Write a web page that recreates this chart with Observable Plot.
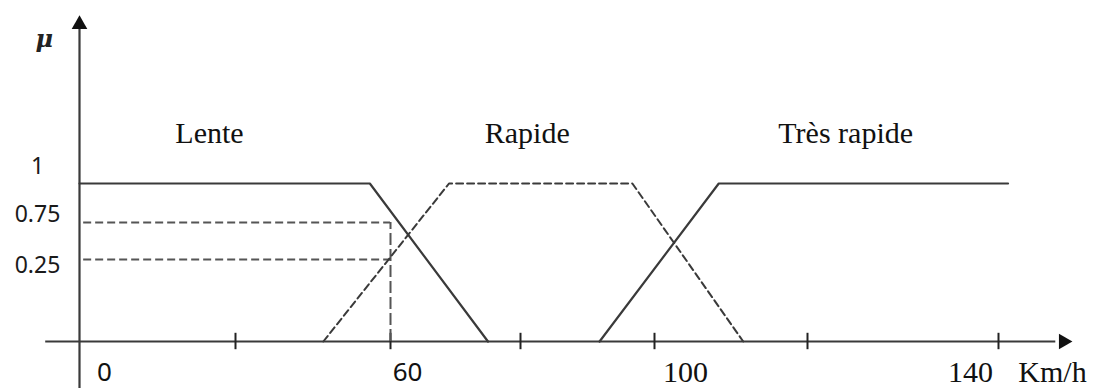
<!DOCTYPE html>
<html><head><meta charset="utf-8">
<script src="https://cdn.jsdelivr.net/npm/d3@7"></script>
<script src="https://cdn.jsdelivr.net/npm/@observablehq/plot@0.6"></script>
<style>html,body{margin:0;padding:0;background:#fff;overflow:hidden}</style>
</head><body><div id="chart"></div>
<script>
// Membership functions (x in km/h, mu in [0,1])
const lenteX = [0, 56, 75];
const lenteMu = [1, 1, 0];
const rapideX = [47, 69, 96.7, 111.6];
const rapideMu = [0, 1, 1, 0];
const tresRapideX = [91.8, 108.4, 141];
const tresRapideMu = [0, 1, 1];
const categories = ["Lente", "Rapide", "Très rapide"];
const categoryX = [25, 81, 124];
const xTicks = [30, 60, 80, 100, 120, 140];
const xTickLabels = ["0", "60", "100", "140"];
const xTickLabelValues = [0, 60, 100, 140];
const yTickLabels = ["1", "0.75", "0.25"];
const yTickValues = [1, 0.75, 0.25];
const readX = 60;
const readMu = [0.75, 0.25];

// the hand-drawn figure's axes are not evenly spaced: piecewise warp
const xWarp = d3.scaleLinear().domain([0, 30, 60, 80, 100, 120, 140]).range([79, 235, 390, 520, 654, 807, 998]);
const yWarp = d3.scaleLinear().domain([0, 0.25, 0.75, 1]).range([341, 259, 222, 183]);

const pts = (xs, ys) => xs.map((x, i) => ({x, mu: ys[i]}));
const ink = "#3a3a3a";
const sans = "'Noto Sans', sans-serif";
const serif = "'Liberation Serif', serif";

const xLabelStyle = [
  {dx: 25, font: sans, size: 26},
  {dx: 17, font: sans, size: 26},
  {dx: 31, font: serif, size: 30},
  {dx: -28, font: serif, size: 30}
];
const yLabelDy = [-17, -8, 6];

const marks = [
  // axes
  Plot.ruleY([0], {x1: -6.5, x2: 146, stroke: ink, strokeWidth: 2.2}),
  Plot.ruleX([0], {y1: -0.2, y2: 2.0, stroke: ink, strokeWidth: 2.2}),
  Plot.dot([{x: 0, mu: 2.02}], {x: "x", y: "mu", symbol: "triangle", r: 5.8, fill: "#111", stroke: null}),
  Plot.dot([{x: 146.8, mu: 0}], {x: "x", y: "mu", symbol: "triangle", r: 5.8, fill: "#111", stroke: null, rotate: 90}),
  Plot.ruleX(xTicks, {y1: -0.025, y2: 0.025, stroke: "#222", strokeWidth: 2}),
  // reading guides
  Plot.ruleY(readMu, {x1: 0.8, x2: readX, stroke: "#555", strokeWidth: 2, strokeDasharray: "8,4"}),
  Plot.ruleX([readX], {y1: 0, y2: 0.75, stroke: "#555", strokeWidth: 2, strokeDasharray: "12,4"}),
  // membership functions
  Plot.line(pts(lenteX, lenteMu), {x: "x", y: "mu", stroke: ink, strokeWidth: 2.2}),
  Plot.line(pts(rapideX, rapideMu), {x: "x", y: "mu", stroke: ink, strokeWidth: 2, strokeDasharray: "7,4"}),
  Plot.line(pts(tresRapideX, tresRapideMu), {x: "x", y: "mu", stroke: ink, strokeWidth: 2.2}),
  // category labels
  Plot.text(categories.map((c, i) => ({c, x: categoryX[i]})), {x: "x", y: () => 1.32, text: "c", fontFamily: serif, fontSize: 30, fill: "#111"}),
  // x tick labels
  ...xTickLabels.map((t, i) => Plot.text([t], {x: () => xTickLabelValues[i], y: () => 0, dy: 31, dx: xLabelStyle[i].dx, text: d => d, fontFamily: xLabelStyle[i].font, fontSize: xLabelStyle[i].size, fill: "#111"})),
  Plot.text(["Km/h"], {x: () => 140, y: () => 0, dy: 31, dx: 54, text: d => d, fontFamily: serif, fontSize: 30, fill: "#111"}),
  // y tick labels
  ...yTickLabels.map((t, i) => Plot.text([t], {x: () => 0, y: () => yTickValues[i], dx: -42, dy: yLabelDy[i], text: d => d, fontFamily: sans, fontSize: 23, fill: "#1a1a1a"})),
  // axis name
  Plot.text(["μ"], {frameAnchor: "top-left", dx: 35, dy: 29, text: d => d, fontFamily: "'DejaVu Serif', serif", fontStyle: "italic", fontWeight: "bold", fontSize: 24, fill: "#222"})
];

const chart = Plot.plot({
  width: 1094,
  height: 388,
  margin: 0,
  style: {background: "#fff", overflow: "visible"},
  x: {type: "linear", domain: [0, 1094], range: [0, 1094], transform: xWarp, axis: null},
  y: {type: "linear", domain: [0, 388], range: [0, 388], transform: yWarp, axis: null},
  marks
});
document.getElementById("chart").appendChild(chart);
</script>
</body></html>
